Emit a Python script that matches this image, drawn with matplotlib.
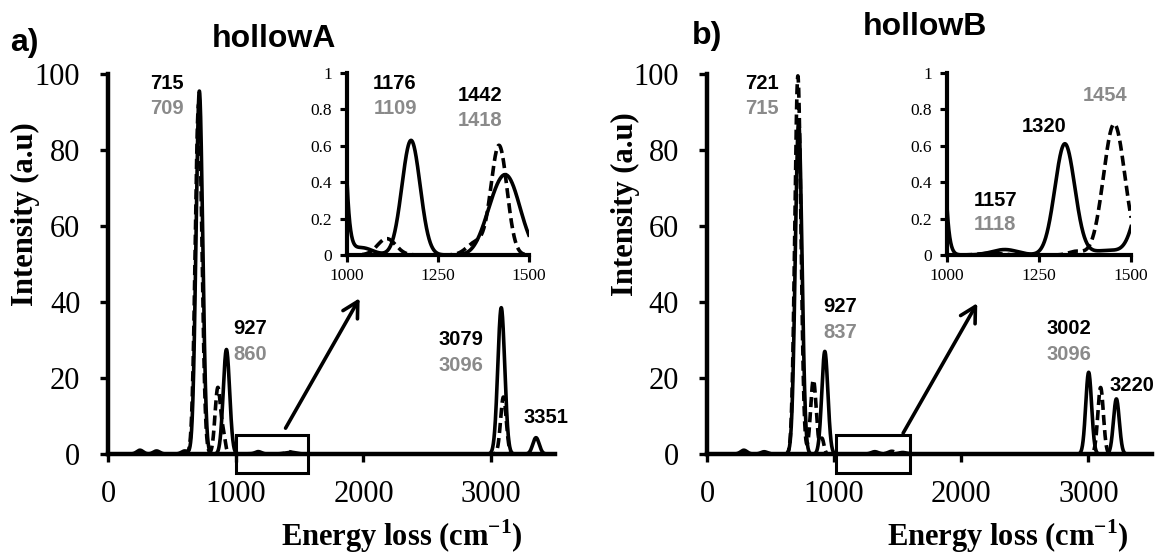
import numpy as np
import matplotlib.pyplot as plt
from matplotlib.patches import Rectangle

# Picos de cada espectro: posición (cm-1), altura y ancho
a_solid_pos = [250, 380, 600, 715, 927, 1040, 1176, 1395, 1442, 3079, 3351]
a_solid_height = [1.0, 0.8, 0.8, 95.5, 27.5, 0.04, 0.63, 0.12, 0.40, 38.5, 4.3]
a_solid_width = [25, 25, 25, 26, 25, 30, 25, 30, 36, 27, 25]

a_dash_pos = [709, 860, 905, 1109, 1355, 1418, 3096]
a_dash_height = [92, 17.5, 4, 0.09, 0.07, 0.6, 15]
a_dash_width = [26, 22, 15, 25, 25, 22, 22]

b_solid_pos = [290, 450, 721, 927, 1157, 1320, 1440, 1540, 3002, 3220]
b_solid_height = [1.0, 0.6, 87.5, 27, 0.03, 0.61, 0.025, 0.4, 21.5, 14.5]
b_solid_width = [25, 25, 26, 24, 35, 27, 50, 28, 23, 23]

b_dash_pos = [715, 837, 905, 1118, 1350, 1454, 3096]
b_dash_height = [99.5, 19.5, 4, 0.01, 0.02, 0.72, 17.5]
b_dash_width = [24, 22, 15, 30, 20, 29, 22]

# Etiquetas de los picos (negro: línea continua, gris: línea discontinua)
a_main_labels = [('715', '709'), ('927', '860'), ('3079', '3096'), ('3351', None)]
a_inset_labels = [('1176', '1109'), ('1442', '1418')]
b_main_labels = [('721', '715'), ('927', '837'), ('3002', '3096'), ('3220', None)]
b_inset_labels = [('1157', '1118'), ('1320', None), (None, '1454')]

GRAY = '#8a8a8a'
DASH = (0, (2.8, 1.4))

plt.rcParams['font.family'] = 'Liberation Serif'
plt.rcParams['mathtext.fontset'] = 'custom'
plt.rcParams['mathtext.rm'] = 'Liberation Serif'
plt.rcParams['mathtext.bf'] = 'Liberation Serif:bold'


def spectrum(x, pos, height, width):
  y = np.zeros_like(x)
  for p, h, w in zip(pos, height, width):
    y += h * np.exp(-0.5 * ((x - p) / w) ** 2)
  return y


def style_axes(ax, lw, labelsize, length, xpad, ypad):
  ax.spines['top'].set_visible(False)
  ax.spines['right'].set_visible(False)
  ax.spines['left'].set_linewidth(lw)
  ax.spines['bottom'].set_linewidth(lw)
  ax.tick_params(axis='both', direction='out', length=length, width=lw * 0.75,
                 labelsize=labelsize)
  ax.tick_params(axis='x', pad=xpad)
  ax.tick_params(axis='y', pad=ypad)


def peak_label(ax, x, y, black, gray, dy):
  kw = dict(ha='center', va='center', fontsize=14.5, fontweight='bold',
            family='Liberation Sans', clip_on=False)
  if black:
    ax.text(x, y, black, color='black', **kw)
  if gray:
    ax.text(x, y - dy, gray, color=GRAY, **kw)


def draw_panel(fig, rect, inset_rect, solid, dash, main_labels, main_pos,
               inset_labels, inset_pos, box, arrow, ylabel_xy, xlabel_xy):
  ax = fig.add_axes(rect)
  x = np.linspace(0, 3500, 3501)
  ax.plot(x, spectrum(x, *solid), color='black', lw=2.6)
  ax.plot(x, spectrum(x, *dash), color='black', lw=2.6, linestyle=DASH)
  ax.set_xlim(0, 3500)
  ax.set_ylim(0, 100)
  ax.set_xticks([0, 1000, 2000, 3000])
  ax.set_yticks(range(0, 101, 20))
  style_axes(ax, 3.2, 22, 6, 13, 14)
  ax.set_ylabel('Intensity (a.u)', fontsize=22, fontweight='bold')
  ax.yaxis.set_label_coords(*ylabel_xy)
  ax.set_xlabel('Energy loss (cm$^{\\mathbf{-1}}$)', fontsize=22, fontweight='bold')
  ax.xaxis.set_label_coords(*xlabel_xy)

  for (black, gray), (px, py) in zip(main_labels, main_pos):
    peak_label(ax, px, py, black, gray, 6.8)

  # Recuadro de la zona ampliada y flecha hacia el inserto
  ax.add_patch(Rectangle((box[0], -5), box[1] - box[0], 10, fill=False,
                         lw=2.2, color='black', clip_on=False, zorder=5))
  ax.annotate('', xy=arrow[1], xytext=arrow[0],
              arrowprops=dict(arrowstyle='->,head_length=0.55,head_width=0.3',
                              lw=2.6, color='black', mutation_scale=20,
                              shrinkA=0, shrinkB=0))

  ins = fig.add_axes(inset_rect)
  xi = np.linspace(1000, 1500, 1001)
  ins.plot(xi, spectrum(xi, *solid), color='black', lw=2.6)
  ins.plot(xi, spectrum(xi, *dash), color='black', lw=2.6, linestyle=DASH)
  ins.set_xlim(1000, 1500)
  ins.set_ylim(0, 1)
  ins.set_xticks([1000, 1250, 1500])
  ins.set_yticks([0, 0.2, 0.4, 0.6, 0.8, 1])
  ins.set_yticklabels(['0', '0.2', '0.4', '0.6', '0.8', '1'])
  style_axes(ins, 3.0, 12.5, 5, 4, 6)
  for (black, gray), (px, py) in zip(inset_labels, inset_pos):
    peak_label(ins, px, py, black, gray, 0.135)
  return ax


fig = plt.figure(figsize=(11.58, 5.54), dpi=100)

draw_panel(fig, [0.0933, 0.1805, 0.386, 0.686], [0.2997, 0.5397, 0.157, 0.3285],
           (a_solid_pos, a_solid_height, a_solid_width),
           (a_dash_pos, a_dash_height, a_dash_width),
           a_main_labels, [(465, 97.6), (1110, 33), (2766, 30), (3430, 9.5)],
           a_inset_labels, [(1132, 0.94), (1365, 0.874)],
           (1000, 1567), ((1390, 6.8), (1970, 41)),
           (-0.152, 0.632), (0.658, -0.168))

draw_panel(fig, [0.6105, 0.1805, 0.3843, 0.686], [0.8178, 0.5397, 0.159, 0.3285],
           (b_solid_pos, b_solid_height, b_solid_width),
           (b_dash_pos, b_dash_height, b_dash_width),
           b_main_labels, [(433, 97.6), (1047, 38.7), (2843, 33), (3346, 18)],
           b_inset_labels, [(1131, 0.30), (1263, 0.707), (1428, 1.012)],
           (1015, 1595), ((1543, 5.5), (2126, 39.7)),
           (-0.150, 0.658), (0.676, -0.168))

# Títulos y letras de cada panel
sans = dict(family='Liberation Sans', fontweight='bold', fontsize=23, va='baseline')
fig.text(10 / 1158, 1 - 51 / 554, 'a)', **sans)
fig.text(212 / 1158, 1 - 47 / 554, 'hollowA', **sans)
fig.text(692 / 1158, 1 - 44 / 554, 'b)', **sans)
fig.text(863 / 1158, 1 - 35 / 554, 'hollowB', **sans)

plt.savefig('out.png', dpi=100)
plt.close()
